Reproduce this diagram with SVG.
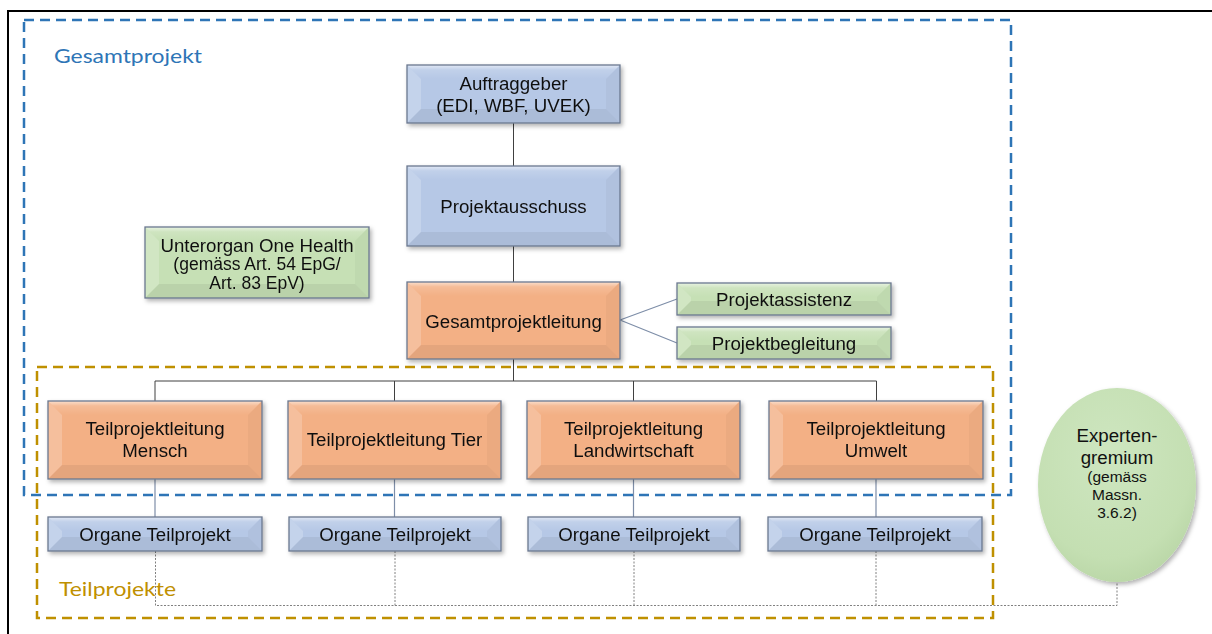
<svg xmlns="http://www.w3.org/2000/svg" width="1212" height="634" viewBox="0 0 1212 634">
<defs>
<filter id="sh" x="-10%" y="-20%" width="130%" height="150%">
<feDropShadow dx="2" dy="2.5" stdDeviation="2" flood-color="#000" flood-opacity="0.3"/>
</filter>
<linearGradient id="topg" x1="0" y1="0" x2="0" y2="1">
<stop offset="0" stop-color="#fff" stop-opacity="0.6"/>
<stop offset="0.35" stop-color="#fff" stop-opacity="0.15"/>
<stop offset="1" stop-color="#fff" stop-opacity="0"/>
</linearGradient>
<radialGradient id="ell" cx="0.45" cy="0.35" r="0.7">
<stop offset="0" stop-color="#CEE6C0"/>
<stop offset="0.75" stop-color="#C4DFB2"/>
<stop offset="1" stop-color="#B8D5A5"/>
</radialGradient>
<style>
.frame{fill:none;stroke:#000;stroke-width:2}
.gp{fill:none;stroke:#2E75B6;stroke-width:2.5;stroke-dasharray:10 6}
.tp{fill:none;stroke:#BF9000;stroke-width:2.5;stroke-dasharray:10 6}
.lbl{font-family:Lato,"Open Sans",sans-serif;font-size:20px}
.box{stroke:#6A7890;stroke-width:1.3}
.blue{fill:#B6C8E6}
.orange{fill:#F3B085}
.green{fill:#C6E0B5}
.bt{fill:url(#topg)}
.bl{fill:#fff;fill-opacity:0.2}
.br{fill:#000;fill-opacity:0.03}
.bb{fill:#000;fill-opacity:0.06}
.t{font-family:"Liberation Sans",Arial,sans-serif;font-size:18.7px;fill:#111;text-anchor:middle}
.s{font-size:17.5px}
.e{font-size:15.5px}
.tree{fill:none;stroke:#404040;stroke-width:1}
.blk{fill:none;stroke:#7E8EA8;stroke-width:1.2}
.dot{fill:none;stroke:#808080;stroke-width:1;stroke-dasharray:2 1.5}
</style>
</defs>
<rect width="1212" height="634" fill="#fff"/>
<path class="frame" d="M8,634 V11 H1212"/>

<g id="connectors">
<path class="tree" d="M513.5,123 V166 M513.5,246 V282 M513.5,359 V381 M155,401 V381 H876.5 V401 M394.5,381 V401 M633.5,381 V401"/>
<path class="blk" d="M620,320 L677,299 M620,320 L677,343"/>
<path class="blk" d="M155,479 V517 M394.5,479 V517 M633.5,479 V517 M876,479 V517"/>
<path class="dot" d="M155.5,551 V605.5 H1117 V582 M395,551 V605.5 M634,551 V605.5 M876,551 V605.5"/>
</g>

<g id="gesamtprojekt-frame">
<rect class="gp" x="24" y="20" width="987" height="475"/>
<text class="lbl" x="54" y="62.5" fill="#2E75B6" textLength="148" lengthAdjust="spacingAndGlyphs">Gesamtprojekt</text>
</g>
<g id="teilprojekte-frame">
<rect class="tp" x="37" y="367" width="956" height="251"/>
<text class="lbl" x="59" y="595.5" fill="#BF9000" textLength="117" lengthAdjust="spacingAndGlyphs">Teilprojekte</text>
</g>

<g id="auftraggeber" filter="url(#sh)">
<rect class="blue" x="407" y="65" width="213" height="58"/>
<polygon class="bt" points="407,65 620,65 606,79 421,79"/>
<polygon class="bl" points="407,65 421,79 421,109 407,123"/>
<polygon class="br" points="620,65 620,123 606,109 606,79"/>
<polygon class="bb" points="407,123 620,123 606,109 421,109"/>
<rect class="box" fill="none" x="407" y="65" width="213" height="58"/>
<text class="t" x="513.5" y="90">Auftraggeber</text>
<text class="t" x="513.5" y="112">(EDI, WBF, UVEK)</text>
</g>

<g id="projektausschuss" filter="url(#sh)">
<rect class="blue" x="407" y="166" width="213" height="80"/>
<polygon class="bt" points="407,166 620,166 606,180 421,180"/>
<polygon class="bl" points="407,166 421,180 421,232 407,246"/>
<polygon class="br" points="620,166 620,246 606,232 606,180"/>
<polygon class="bb" points="407,246 620,246 606,232 421,232"/>
<rect class="box" fill="none" x="407" y="166" width="213" height="80"/>
<text class="t" x="513.5" y="212.5">Projektausschuss</text>
</g>

<g id="unterorgan" filter="url(#sh)">
<rect class="green" x="145" y="227" width="224" height="71"/>
<polygon class="bt" points="145,227 369,227 355,241 159,241"/>
<polygon class="bl" points="145,227 159,241 159,284 145,298"/>
<polygon class="br" points="369,227 369,298 355,284 355,241"/>
<polygon class="bb" points="145,298 369,298 355,284 159,284"/>
<rect class="box" fill="none" x="145" y="227" width="224" height="71"/>
<text class="t" x="257" y="252">Unterorgan One Health</text>
<text class="t s" x="257" y="270">(gemäss Art. 54 EpG/</text>
<text class="t s" x="257" y="288.5">Art. 83 EpV)</text>
</g>

<g id="gesamtprojektleitung" filter="url(#sh)">
<rect class="orange" x="407" y="282" width="213" height="77"/>
<polygon class="bt" points="407,282 620,282 606,296 421,296"/>
<polygon class="bl" points="407,282 421,296 421,345 407,359"/>
<polygon class="br" points="620,282 620,359 606,345 606,296"/>
<polygon class="bb" points="407,359 620,359 606,345 421,345"/>
<rect class="box" fill="none" x="407" y="282" width="213" height="77"/>
<text class="t" x="513.5" y="327.5">Gesamtprojektleitung</text>
</g>

<g id="projektassistenz" filter="url(#sh)">
<rect class="green" x="677" y="283" width="214" height="32"/>
<polygon class="bt" points="677,283 891,283 877,297 691,297"/>
<polygon class="bl" points="677,283 691,297 691,301 677,315"/>
<polygon class="br" points="891,283 891,315 877,301 877,297"/>
<polygon class="bb" points="677,315 891,315 877,301 691,301"/>
<rect class="box" fill="none" x="677" y="283" width="214" height="32"/>
<text class="t" x="784" y="305.5">Projektassistenz</text>
</g>

<g id="projektbegleitung" filter="url(#sh)">
<rect class="green" x="677" y="327" width="214" height="32"/>
<polygon class="bt" points="677,327 891,327 877,341 691,341"/>
<polygon class="bl" points="677,327 691,341 691,345 677,359"/>
<polygon class="br" points="891,327 891,359 877,345 877,341"/>
<polygon class="bb" points="677,359 891,359 877,345 691,345"/>
<rect class="box" fill="none" x="677" y="327" width="214" height="32"/>
<text class="t" x="784" y="349.5">Projektbegleitung</text>
</g>

<g id="tpl-mensch" filter="url(#sh)">
<rect class="orange" x="48" y="401" width="214" height="78"/>
<polygon class="bt" points="48,401 262,401 248,415 62,415"/>
<polygon class="bl" points="48,401 62,415 62,465 48,479"/>
<polygon class="br" points="262,401 262,479 248,465 248,415"/>
<polygon class="bb" points="48,479 262,479 248,465 62,465"/>
<rect class="box" fill="none" x="48" y="401" width="214" height="78"/>
<text class="t" x="155" y="435">Teilprojektleitung</text>
<text class="t" x="155" y="457">Mensch</text>
</g>

<g id="tpl-tier" filter="url(#sh)">
<rect class="orange" x="288" y="401" width="213" height="78"/>
<polygon class="bt" points="288,401 501,401 487,415 302,415"/>
<polygon class="bl" points="288,401 302,415 302,465 288,479"/>
<polygon class="br" points="501,401 501,479 487,465 487,415"/>
<polygon class="bb" points="288,479 501,479 487,465 302,465"/>
<rect class="box" fill="none" x="288" y="401" width="213" height="78"/>
<text class="t" x="394.5" y="446">Teilprojektleitung Tier</text>
</g>

<g id="tpl-landwirtschaft" filter="url(#sh)">
<rect class="orange" x="527" y="401" width="213" height="78"/>
<polygon class="bt" points="527,401 740,401 726,415 541,415"/>
<polygon class="bl" points="527,401 541,415 541,465 527,479"/>
<polygon class="br" points="740,401 740,479 726,465 726,415"/>
<polygon class="bb" points="527,479 740,479 726,465 541,465"/>
<rect class="box" fill="none" x="527" y="401" width="213" height="78"/>
<text class="t" x="633.5" y="435">Teilprojektleitung</text>
<text class="t" x="633.5" y="457">Landwirtschaft</text>
</g>

<g id="tpl-umwelt" filter="url(#sh)">
<rect class="orange" x="769" y="401" width="214" height="78"/>
<polygon class="bt" points="769,401 983,401 969,415 783,415"/>
<polygon class="bl" points="769,401 783,415 783,465 769,479"/>
<polygon class="br" points="983,401 983,479 969,465 969,415"/>
<polygon class="bb" points="769,479 983,479 969,465 783,465"/>
<rect class="box" fill="none" x="769" y="401" width="214" height="78"/>
<text class="t" x="876" y="435">Teilprojektleitung</text>
<text class="t" x="876" y="457">Umwelt</text>
</g>

<g id="organe-1" filter="url(#sh)">
<rect class="blue" x="48" y="517" width="214" height="34"/>
<polygon class="bt" points="48,517 262,517 248,531 62,531"/>
<polygon class="bl" points="48,517 62,531 62,537 48,551"/>
<polygon class="br" points="262,517 262,551 248,537 248,531"/>
<polygon class="bb" points="48,551 262,551 248,537 62,537"/>
<rect class="box" fill="none" x="48" y="517" width="214" height="34"/>
<text class="t" x="155" y="540.5">Organe Teilprojekt</text>
</g>

<g id="organe-2" filter="url(#sh)">
<rect class="blue" x="289" y="517" width="212" height="34"/>
<polygon class="bt" points="289,517 501,517 487,531 303,531"/>
<polygon class="bl" points="289,517 303,531 303,537 289,551"/>
<polygon class="br" points="501,517 501,551 487,537 487,531"/>
<polygon class="bb" points="289,551 501,551 487,537 303,537"/>
<rect class="box" fill="none" x="289" y="517" width="212" height="34"/>
<text class="t" x="395" y="540.5">Organe Teilprojekt</text>
</g>

<g id="organe-3" filter="url(#sh)">
<rect class="blue" x="528" y="517" width="212" height="34"/>
<polygon class="bt" points="528,517 740,517 726,531 542,531"/>
<polygon class="bl" points="528,517 542,531 542,537 528,551"/>
<polygon class="br" points="740,517 740,551 726,537 726,531"/>
<polygon class="bb" points="528,551 740,551 726,537 542,537"/>
<rect class="box" fill="none" x="528" y="517" width="212" height="34"/>
<text class="t" x="634" y="540.5">Organe Teilprojekt</text>
</g>

<g id="organe-4" filter="url(#sh)">
<rect class="blue" x="768" y="517" width="214" height="34"/>
<polygon class="bt" points="768,517 982,517 968,531 782,531"/>
<polygon class="bl" points="768,517 782,531 782,537 768,551"/>
<polygon class="br" points="982,517 982,551 968,537 968,531"/>
<polygon class="bb" points="768,551 982,551 968,537 782,537"/>
<rect class="box" fill="none" x="768" y="517" width="214" height="34"/>
<text class="t" x="875" y="540.5">Organe Teilprojekt</text>
</g>

<g id="expertengremium">
<ellipse cx="1117" cy="485" rx="79" ry="97" fill="url(#ell)" filter="url(#sh)"/>
<text class="t" x="1117" y="442">Experten-</text>
<text class="t" x="1117" y="463.5">gremium</text>
<text class="t e" x="1117" y="482">(gemäss</text>
<text class="t e" x="1117" y="500">Massn.</text>
<text class="t e" x="1117" y="517.5">3.6.2)</text>
</g>
</svg>
